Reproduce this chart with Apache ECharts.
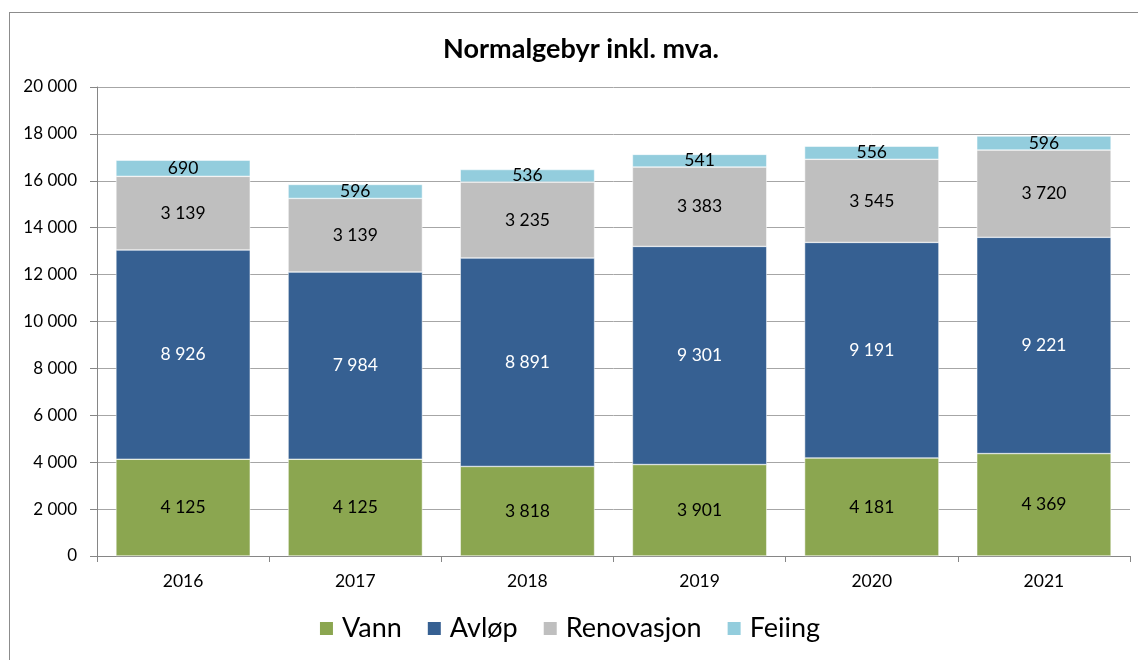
<!DOCTYPE html>
<html>
<head>
<meta charset="utf-8">
<script src="https://cdn.jsdelivr.net/npm/echarts@6/dist/echarts.min.js"></script>
<style>
  html, body { margin: 0; padding: 0; background: #fff; }
  #chart { width: 1138px; height: 660px; }
  #frame { position: absolute; left: 9px; top: 12px; width: 1140px; height: 660px; border: 1px solid #8c8c8c; pointer-events: none; }
</style>
</head>
<body>
<div id="chart"></div>
<div id="frame"></div>
<script>
let years = ['2016', '2017', '2018', '2019', '2020', '2021'];
let vann = [4125, 4125, 3818, 3901, 4181, 4369];
let avlop = [8926, 7984, 8891, 9301, 9191, 9221];
let renovasjon = [3139, 3139, 3235, 3383, 3545, 3720];
let feiing = [690, 596, 536, 541, 556, 596];

let fmt = function (v) {
    return String(v).replace(/\B(?=(\d{3})+(?!\d))/g, ' ');
};

let chart = echarts.init(document.getElementById('chart'));

let makeSeries = function (name, data, color, labelColor) {
    return {
        name: name,
        type: 'bar',
        stack: 'total',
        data: data,
        barWidth: '78%',
        itemStyle: { color: color, borderColor: '#fff', borderWidth: 0.5 },
        label: {
            show: true,
            position: 'inside',
            color: labelColor,
            fontSize: 17.5,
            fontFamily: 'Lato',
            formatter: function (p) { return fmt(p.value); }
        },
        emphasis: { disabled: true }
    };
};

let option = {
    animation: false,
    textStyle: { fontFamily: 'Lato' },
    title: {
        text: 'Normalgebyr inkl. mva.',
        left: 576,
        textAlign: 'center',
        top: 31,
        textStyle: { fontSize: 27, fontWeight: 'bold', color: '#000', fontFamily: 'Lato' }
    },
    legend: {
        bottom: 13,
        left: 'center',
        itemWidth: 15,
        itemHeight: 15,
        itemGap: 24,
        icon: 'rect',
        textStyle: { fontSize: 27, color: '#000', fontFamily: 'Lato', padding: [0, 0, 0, 3] },
        data: ['Vann', 'Avløp', 'Renovasjon', 'Feiing']
    },
    grid: { left: 97, right: 8, top: 87, bottom: 104 },
    xAxis: {
        type: 'category',
        data: years,
        axisLine: { lineStyle: { color: '#868686', width: 1 } },
        axisTick: { show: true, length: 6, lineStyle: { color: '#868686' } },
        axisLabel: { color: '#000', fontSize: 17.5, margin: 16 }
    },
    yAxis: {
        type: 'value',
        min: 0,
        max: 20000,
        interval: 2000,
        axisLine: { show: true, lineStyle: { color: '#868686' } },
        axisTick: { show: true, length: 7, lineStyle: { color: '#868686' } },
        splitLine: { lineStyle: { color: '#a6a6a6', width: 1 } },
        axisLabel: { color: '#000', fontSize: 17, margin: 20, formatter: fmt }
    },
    series: [
        makeSeries('Vann', vann, '#8ba650', '#000'),
        makeSeries('Avløp', avlop, '#366092', '#fff'),
        makeSeries('Renovasjon', renovasjon, '#bfbfbf', '#000'),
        makeSeries('Feiing', feiing, '#93cddd', '#000')
    ]
};

chart.setOption(option);
</script>
</body>
</html>
